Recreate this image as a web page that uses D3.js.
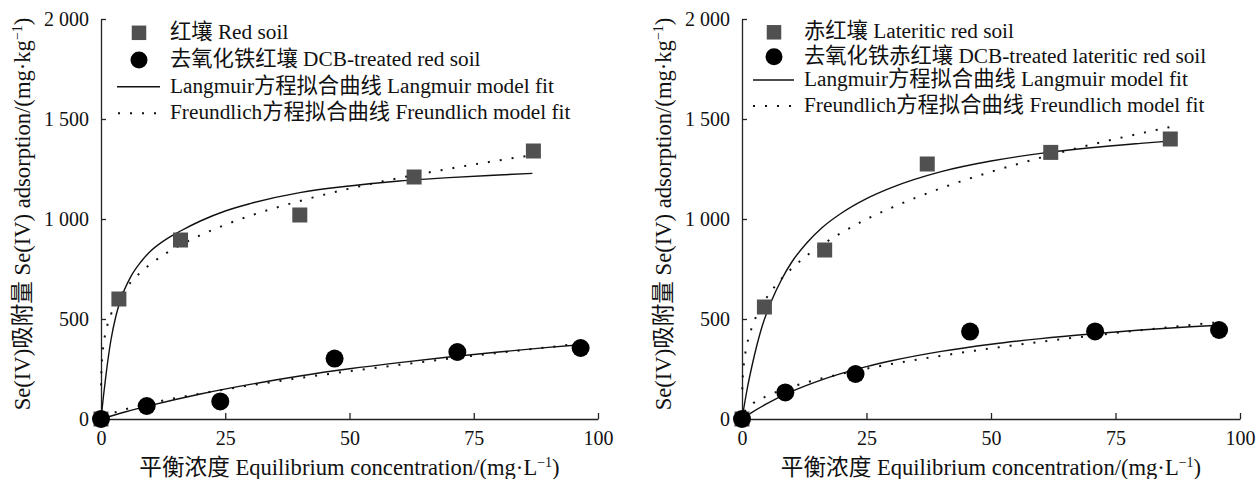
<!DOCTYPE html>
<html><head><meta charset="utf-8">
<script src="https://cdn.jsdelivr.net/npm/d3@7"></script>
<style>
html,body{margin:0;padding:0;background:#fff;}
svg{display:block;background:#fff;}
text{font-family:'Liberation Serif','Noto Sans CJK SC',serif;fill:#111;}
</style></head><body>
<svg id="chart" width="1258" height="479"></svg>
<script>
// ---- tick labels ----
const xTicks = [0, 25, 50, 75, 100];
const xTickLabels = ["0", "25", "50", "75", "100"];
const yTicks = [0, 500, 1000, 1500, 2000];
const yTickLabels = ["0", "500", "1 000", "1 500", "2 000"];

// ---- Panel A: red soil ----
const legendA = ["红壤 Red soil", "去氧化铁红壤 DCB-treated red soil", "Langmuir方程拟合曲线 Langmuir model fit", "Freundlich方程拟合曲线 Freundlich model fit"];
const redC = [0, 3.6, 16, 40, 63, 87];
const redQ = [0, 600, 895, 1020, 1210, 1340];
const dcbRedC = [0, 9.2, 24, 47, 71.7, 96.5];
const dcbRedQ = [0, 65, 88, 302, 335, 355];
const langRedC = [0, 0.5, 1, 2, 3, 4, 6, 8, 10, 13, 16, 20, 25, 30, 40, 50, 60, 70, 80, 86.8];
const langRedQ = [0, 115, 220, 395, 515, 600, 712, 785, 840, 897, 940, 990, 1040, 1077, 1132, 1165, 1190, 1207, 1220, 1228];
const frRedC = [0.02, 0.05, 0.1, 0.2, 0.5, 1, 2, 4, 6, 8, 10, 13, 16, 20, 25, 30, 40, 50, 60, 70, 80, 87];
const frRedQ = [168, 211, 250, 296, 371, 440, 522, 619, 684, 734, 775, 827, 870, 919, 971, 1016, 1090, 1152, 1205, 1251, 1293, 1320];
const langDcbRedC = [0, 5, 10, 20, 30, 40, 50, 60, 70, 80, 90, 96.5];
const langDcbRedQ = [0, 36, 68, 125, 173, 215, 251, 282, 310, 335, 358, 371];
const frDcbRedC = [0.5, 1, 2, 5, 10, 20, 30, 40, 50, 60, 70, 80, 90, 96.5];
const frDcbRedQ = [10, 16, 26, 49, 79, 127, 168, 205, 239, 271, 302, 331, 359, 377];

// ---- Panel B: lateritic red soil ----
const legendB = ["赤红壤 Lateritic red soil", "去氧化铁赤红壤 DCB-treated lateritic red soil", "Langmuir方程拟合曲线 Langmuir model fit", "Freundlich方程拟合曲线 Freundlich model fit"];
const latC = [0, 4.5, 16.6, 37.2, 62, 86];
const latQ = [0, 560, 845, 1275, 1333, 1400];
const dcbLatC = [0, 8.7, 22.8, 45.8, 70.9, 95.8];
const dcbLatQ = [0, 133, 225, 437, 438, 445];
const langLatC = [0, 0.5, 1, 2, 3, 4, 6, 8, 10, 13, 16, 20, 25, 30, 40, 50, 60, 70, 80, 86];
const langLatQ = [0, 75, 145, 265, 370, 460, 595, 700, 785, 880, 955, 1030, 1102, 1157, 1237, 1290, 1328, 1356, 1378, 1390];
const frLatC = [0.05, 0.1, 0.2, 0.5, 1, 2, 4, 6, 8, 10, 13, 16, 20, 25, 30, 40, 50, 60, 70, 80, 86];
const frLatQ = [148, 183, 226, 300, 371, 459, 568, 644, 703, 753, 817, 870, 932, 999, 1056, 1154, 1236, 1307, 1371, 1428, 1460];
const langDcbLatC = [0, 2, 5, 10, 15, 20, 25, 30, 40, 50, 60, 70, 80, 90, 95.8];
const langDcbLatQ = [0, 33, 77, 138, 187, 228, 262, 291, 338, 374, 402, 425, 445, 461, 469];
const frDcbLatC = [0.5, 1, 2, 5, 10, 15, 20, 25, 30, 40, 50, 60, 70, 80, 90, 95.8];
const frDcbLatQ = [37, 53, 74, 115, 161, 196, 226, 252, 275, 316, 353, 386, 416, 444, 470, 484];

const xTitleMain = "平衡浓度 Equilibrium concentration/(mg·L";
const yTitleMain = "Se(IV)吸附量 Se(IV) adsorption/(mg·kg";
const supText = "−1";

const zip = (a, b) => a.map((v, i) => [v, b[i]]);

const panels = [
  { left: 101, right: 598, legend: legendA,
    sq: zip(redC, redQ), ci: zip(dcbRedC, dcbRedQ),
    lines: [zip(langRedC, langRedQ), zip(langDcbRedC, langDcbRedQ)],
    dots: [zip(frRedC, frRedQ), zip(frDcbRedC, frDcbRedQ)],
    lg: { mx: 139, tx: 170, rows: [32.8, 60, 86.7, 113.3], lx0: 117, lx1: 160, dx0: 118, dx1: 156 } },
  { left: 742, right: 1240, legend: legendB,
    sq: zip(latC, latQ), ci: zip(dcbLatC, dcbLatQ),
    lines: [zip(langLatC, langLatQ), zip(langDcbLatC, langDcbLatQ)],
    dots: [zip(frLatC, frLatQ), zip(frDcbLatC, frDcbLatQ)],
    lg: { mx: 774, tx: 804, rows: [32.3, 56.7, 80, 106], lx0: 753, lx1: 794, dx0: 753, dx1: 791 } }
];

const svg = d3.select("#chart");
const TOP = 19, BOTTOM = 419;

panels.forEach(p => {
  const x = d3.scaleLinear().domain([0, 100]).range([p.left, p.right]);
  const y = d3.scaleLinear().domain([0, 2000]).range([BOTTOM, TOP]);
  const g = svg.append("g");

  // axes
  const gx = g.append("g").attr("transform", `translate(0,${BOTTOM})`)
    .call(d3.axisBottom(x).tickValues(xTicks).tickSize(-6).tickSizeOuter(0).tickPadding(12)
      .tickFormat((d, i) => xTickLabels[i]));
  const gy = g.append("g").attr("transform", `translate(${p.left},0)`)
    .call(d3.axisLeft(y).tickValues(yTicks).tickSize(-5).tickSizeOuter(0).tickPadding(12)
      .tickFormat((d, i) => yTickLabels[i]));
  [gx, gy].forEach(a => {
    a.attr("font-size", 20).attr("font-family", null);
    a.selectAll("path,line").attr("stroke", "#222").attr("stroke-width", 1.3);
    a.selectAll("text").attr("fill", "#111");
  });

  // fit curves
  const line = d3.line().x(d => x(d[0])).y(d => y(d[1])).curve(d3.curveMonotoneX);
  p.lines.forEach(ld => g.append("path").attr("d", line(ld)).attr("fill", "none")
    .attr("stroke", "#111").attr("stroke-width", 1.4));
  p.dots.forEach(ld => g.append("path").attr("d", line(ld)).attr("fill", "none")
    .attr("stroke", "#111").attr("stroke-width", 2).attr("stroke-dasharray", "2 10"));

  // markers
  g.selectAll(null).data(p.sq).enter().append("rect")
    .attr("x", d => x(d[0]) - 7.5).attr("y", d => y(d[1]) - 7.5)
    .attr("width", 15).attr("height", 15).attr("fill", "#505050");
  g.selectAll(null).data(p.ci).enter().append("circle")
    .attr("cx", d => x(d[0])).attr("cy", d => y(d[1])).attr("r", 9).attr("fill", "#000");

  // legend
  const L = p.lg;
  g.append("rect").attr("x", L.mx - 7.25).attr("y", L.rows[0] - 7.25).attr("width", 14.5).attr("height", 14.5).attr("fill", "#505050");
  g.append("circle").attr("cx", L.mx).attr("cy", L.rows[1]).attr("r", 8.5).attr("fill", "#000");
  g.append("line").attr("x1", L.lx0).attr("x2", L.lx1).attr("y1", L.rows[2]).attr("y2", L.rows[2])
    .attr("stroke", "#111").attr("stroke-width", 1.5);
  g.append("line").attr("x1", L.dx0).attr("x2", L.dx1).attr("y1", L.rows[3]).attr("y2", L.rows[3])
    .attr("stroke", "#111").attr("stroke-width", 2).attr("stroke-dasharray", "2 10");
  p.legend.forEach((t, i) => g.append("text").attr("x", L.tx).attr("y", L.rows[i] + 6)
    .attr("font-size", 21.3).text(t));

  // x title
  const xt = g.append("text").attr("x", (p.left + p.right) / 2).attr("y", 475)
    .attr("text-anchor", "middle").attr("font-size", 22.6);
  xt.append("tspan").text(xTitleMain);
  xt.append("tspan").attr("dy", -8).attr("font-size", 14).text(supText);
  xt.append("tspan").attr("dy", 8).text(")");

  // y title
  const yt = g.append("text").attr("transform", `translate(${p.left - 71},${(TOP + BOTTOM) / 2 - 5}) rotate(-90)`)
    .attr("text-anchor", "middle").attr("font-size", 22.6);
  yt.append("tspan").text(yTitleMain);
  yt.append("tspan").attr("dy", -8).attr("font-size", 14).text(supText);
  yt.append("tspan").attr("dy", 8).text(")");
});
</script>
</body></html>
